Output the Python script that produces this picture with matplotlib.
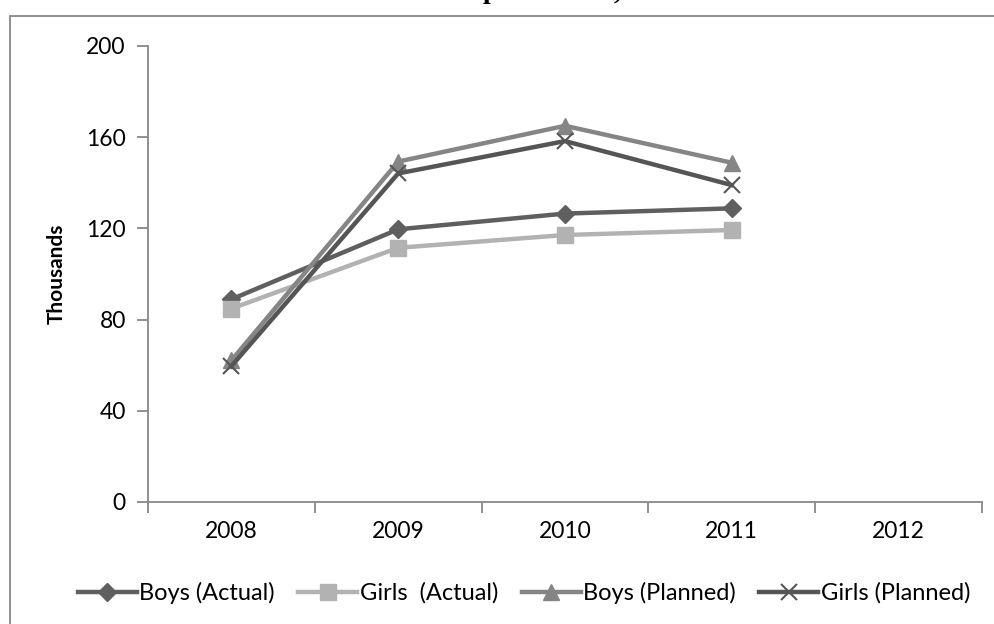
import numpy as np
import matplotlib.pyplot as plt
from matplotlib.patches import Rectangle

plt.rcParams['font.family'] = ['Lato', 'DejaVu Sans']

years = ['2008', '2009', '2010', '2011', '2012']
boys_actual = [88.9, 119.6, 126.5, 128.8]
girls_actual = [84.8, 111.5, 117.1, 119.3]
boys_planned = [62.1, 149.3, 165.0, 148.8]
girls_planned = [59.6, 144.1, 158.3, 139.0]
series_names = ['Boys (Actual)', 'Girls  (Actual)', 'Boys (Planned)', 'Girls (Planned)']
y_ticks = [0, 40, 80, 120, 160, 200]

fig = plt.figure(figsize=(9.95, 6.24), dpi=100)

# outer chart frame (runs off the right/bottom edge)
fig.patches.append(Rectangle((9.5 / 995, -0.1), 1.2, 1 - 16.5 / 624 + 0.1,
                             transform=fig.transFigure, fill=False,
                             edgecolor='#888888', linewidth=1.3))

# title is cut off at the top of the picture: only descenders show
fig.text(490 / 995, 1 + 1.5 / 624, 'p', ha='center', va='baseline',
         family='Liberation Serif', fontweight='bold', fontsize=20)
fig.text(617 / 995, 1 + 1.5 / 624, ',', ha='center', va='baseline',
         family='Liberation Serif', fontweight='bold', fontsize=20)

ax = fig.add_axes([148 / 995, 1 - 502 / 624, (982 - 148) / 995, (502 - 46) / 624])

x = np.arange(len(boys_actual))
ax.plot(x, boys_actual, color='#5f5f5f', lw=3.2, marker='D', ms=9, label=series_names[0])
ax.plot(x, girls_actual, color='#b2b2b2', lw=3.2, marker='s', ms=11, label=series_names[1])
ax.plot(x, boys_planned, color='#858585', lw=3.2, marker='^', ms=12, label=series_names[2])
ax.plot(x, girls_planned, color='#555555', lw=3.2, marker='x', ms=12, mew=1.5, label=series_names[3])

ax.set_xlim(-0.5, len(years) - 0.5)
ax.set_ylim(0, 200)
ax.set_yticks(y_ticks)
ax.set_xticks(np.arange(len(years)))
ax.set_xticklabels(years)
ax.set_xticks(np.arange(len(years) + 1) - 0.5, minor=True)
ax.tick_params(axis='x', which='major', length=0, pad=14, labelsize=16.5)
ax.tick_params(axis='x', which='minor', length=8, color='#888888', width=1.3)
ax.tick_params(axis='y', length=8, color='#888888', width=1.3, pad=8, labelsize=16.5)

for s in ['top', 'right']:
    ax.spines[s].set_visible(False)
for s in ['left', 'bottom']:
    ax.spines[s].set_color('#888888')
    ax.spines[s].set_linewidth(1.3)

ax.set_ylabel('Thousands', fontsize=15, fontweight='bold', labelpad=14)

leg = fig.legend(*ax.get_legend_handles_labels(), loc='center',
                 bbox_to_anchor=(524 / 995, 1 - 593 / 624), ncol=4,
                 frameon=False, fontsize=17, handlelength=2.5, handletextpad=0.1,
                 columnspacing=1.0)

fig.savefig('out.png', dpi=100)
